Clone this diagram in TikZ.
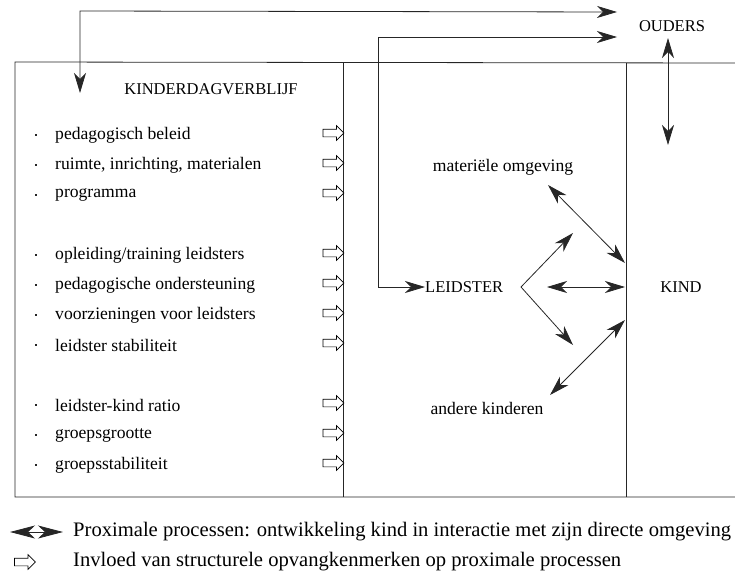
\documentclass[tikz,border=0pt]{standalone}
\usepackage{fontspec}
\setmainfont{Liberation Serif}
\usetikzlibrary{arrows.meta,shapes.arrows}
\begin{document}
\begin{tikzpicture}[x=1pt,y=-1pt,
  txt/.style={inner sep=0pt,font=\fontsize{17.6}{20}\selectfont},
  legtxt/.style={inner sep=0pt,font=\fontsize{20.6}{22}\selectfont},
  caps/.style={inner sep=0pt,font=\fontsize{16.5}{18}\selectfont},
  frameline/.style={line width=0.8pt,black!85},
  conn/.style={line width=0.8pt,black!85},
  tip/.style={-{Stealth[length=20pt,width=12pt,inset=6pt]}},
  dtip/.style={{Stealth[length=20pt,width=12pt,inset=6pt]}-{Stealth[length=20pt,width=12pt,inset=6pt]}},
  hollow/.style={single arrow,draw,fill=white,line width=0.7pt,minimum height=21pt,minimum width=14pt,single arrow head extend=3.5pt,inner sep=3.5pt},
  bul/.style={rectangle,fill=black!85,inner sep=0pt,minimum size=2.8pt}]
\useasboundingbox (0,0) rectangle (735,578);
% frame
\draw[frameline] (735,63) -- (15,62) -- (15,497) -- (735,497);
\draw[frameline] (343,62) -- (343,497);
\draw[frameline] (626,63) -- (626,497);
% headings
\node[caps] (kdv) at (211,89) {KINDERDAGVERBLIJF};
\node[caps] (ouders) at (672,26) {OUDERS};
\node[caps,anchor=west] (leidster) at (425,287) {LEIDSTER};
\node[caps] (kind) at (681,287) {KIND};
\node[txt] (mat) at (503,167) {materiële omgeving};
\node[txt] (andere) at (487,408) {andere kinderen};
% list items
\foreach \y/\t [count=\i] in {135/{pedagogisch beleid},165/{ruimte, inrichting, materialen},195/{programma},255/{opleiding/training leidsters},285/{pedagogische ondersteuning},315/{voorzieningen voor leidsters},345/{leidster stabiliteit},405/{leidster-kind ratio},435/{groepsgrootte},465/{groepsstabiliteit}}{
  \node[bul] (b\i) at (36,\y) {};
  \node[txt,anchor=west] (item\i) at (55,\y) {\t};
  \node[hollow] (h\i) at (331.5,\y-2) {};
}
% coordinates
\coordinate (topdown) at (80,93);
\coordinate (topcorner) at (80,11);
\coordinate (otip1) at (617,12);
\coordinate (otip2) at (617,37);
\coordinate (lcorner1) at (378,37);
\coordinate (lcorner2) at (378,287);
\coordinate (oudUp) at (668,38);
\coordinate (oudDown) at (668,145);
\coordinate (fan) at (521,287);
\coordinate (fanup) at (573,233);
\coordinate (fandown) at (573,345);
\coordinate (hleft) at (547,287);
\coordinate (hright) at (625,287);
\coordinate (uleft) at (548,185);
\coordinate (uright) at (625,263);
\coordinate (lright) at (625,320);
\coordinate (lleft) at (550,395);
% connectors
\draw[conn,dtip] (topdown) -- (topcorner) -- (otip1);
\draw[conn,dtip] (otip2) -- (lcorner1) -- (lcorner2) -- (leidster.west);
\draw[conn,dtip] (oudUp) -- (oudDown);
\draw[conn,tip] (fan) -- (fanup);
\draw[conn,tip] (fan) -- (fandown);
\draw[conn,dtip] (hleft) -- (hright);
\draw[conn,dtip] (uleft) -- (uright);
\draw[conn,dtip] (lright) -- (lleft);
% legend
\coordinate (lgA) at (10,532);
\coordinate (lgB) at (63,532);
\draw[conn,{Stealth[length=25pt,width=13pt,inset=7pt]}-{Stealth[length=25pt,width=13pt,inset=7pt]}] (lgA) -- (lgB);
\node[legtxt,anchor=west] (leg1) at (73,532) {Proximale processen: ontwikkeling kind in interactie met zijn directe omgeving};
\node[hollow] (lgh) at (23,562) {};
\node[legtxt,anchor=west] (leg2) at (73,562) {Invloed van structurele opvangkenmerken op proximale processen};
\end{tikzpicture}
\end{document}
